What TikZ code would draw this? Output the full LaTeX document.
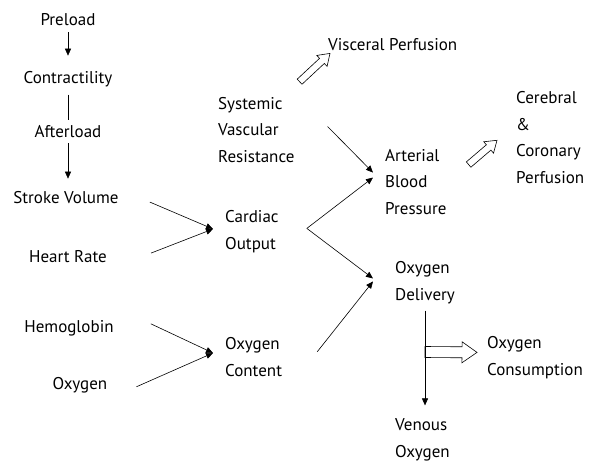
\documentclass[tikz,border=0pt]{standalone}
\usepackage{fontspec}
\setmainfont{PT Sans}
\usetikzlibrary{arrows.meta, positioning, calc}
\tikzstyle{factor} = [inner sep=0pt, font=\fontsize{17}{26.5}\selectfont, anchor=base]
\tikzstyle{block} = [factor, align=left, anchor=base west]
\tikzstyle{arrow} = [line width=0.6pt, -{Triangle[length=7pt,width=6pt]}]
\tikzstyle{link} = [line width=0.6pt]
\tikzstyle{hollow} = [line width=0.6pt, line join=miter]
% hollow block arrow: {start}{tip}{half shaft}{half head}{head length}
\newcommand{\hollowarrow}[5]{%
  \coordinate (hb) at ($(#2)!#5!(#1)$);
  \draw[hollow] ($(#1)!#3!90:(#2)$) -- ($(hb)!#3!90:(#2)$) -- ($(hb)!#4!90:(#2)$) -- (#2)
    -- ($(hb)!#4!-90:(#2)$) -- ($(hb)!#3!-90:(#2)$) -- ($(#1)!#3!-90:(#2)$) -- cycle;
}

\begin{document}
\begin{tikzpicture}[x=1pt, y=-1pt]
    \useasboundingbox (0,0) rectangle (591,463);

    % Left column
    \node (preload) [factor] at (68,25) {Preload};
    \node (contract) [factor] at (68,83) {Contractility};
    \node (afterload) [factor] at (68,137) {Afterload};
    \node (stroke) [factor] at (66,203) {Stroke Volume};
    \node (heart) [factor] at (68,262) {Heart Rate};
    \node (hemo) [factor] at (69,332) {Hemoglobin};
    \node (oxy) [factor] at (80,389) {Oxygen};

    % Middle and right blocks (base = last line)
    \node (cardiac) [block] at (225,249) {Cardiac\\Output};
    \node (content) [block] at (225,376) {Oxygen\\Content};
    \node (svr) [block] at (218,162) {Systemic\\Vascular\\Resistance};
    \node (visceral) [block] at (328,50) {Visceral Perfusion};
    \node (abp) [block] at (385,214) {Arterial\\Blood\\Pressure};
    \node (cerebral) [block] at (516,183) {Cerebral\\\&\\Coronary\\Perfusion};
    \node (delivery) [block] at (395,300) {Oxygen\\Delivery};
    \node (consumption) [block] at (487,375) {Oxygen\\Consumption};
    \node (venous) [block] at (395,457) {Venous\\Oxygen};

    % Junctions
    \coordinate (coin) at (213,229);
    \coordinate (ocin) at (213,353);
    \coordinate (split) at ($(cardiac.east)+(28,-3)$);
    \coordinate (vo2) at (425,352);

    % Heart chain
    \draw[arrow, shorten <=7pt, shorten >=15pt] (preload.south) -- (contract.north);
    \draw[link, shorten <=8pt, shorten >=5pt] (contract.south) -- (afterload.north);
    \draw[arrow, shorten <=6pt, shorten >=12pt] (afterload.south) -- (afterload.south |- stroke.north);

    % Into Cardiac Output and Oxygen Content
    \draw[arrow] ($(stroke.east)+(31,5)$) -- (coin);
    \draw[arrow] ($(heart.east)+(44,-3)$) -- (coin);
    \draw[arrow] ($(hemo.east)+(37,-4)$) -- (ocin);
    \draw[arrow] ($(oxy.east)+(29,2)$) -- (ocin);

    % Cardiac Output splits
    \draw[arrow] (split) -- ($(abp.west)+(-12,-4)$);
    \draw[arrow] (split) -- ($(delivery.west)+(-22,-4)$);
    \draw[arrow] ($(svr.east)+(33,-3)$) -- ($(abp.west)+(-12,-9)$);
    \draw[arrow] ($(content.east)+(35,-5)$) -- ($(delivery.west)+(-22,-1)$);

    % Delivery to venous
    \draw[arrow, shorten <=7pt, shorten >=13pt] (delivery.south) -- (delivery.south |- venous.north);

    % Hollow arrows
    \coordinate (visin) at ($(svr.north east)+(5,-15)$);
    \coordinate (visout) at ($(visceral.south west)+(2,3)$);
    \coordinate (cerin) at ($(abp.east)+(22,-17)$);
    \coordinate (cerout) at ($(cerebral.west)+(-19,3)$);
    \coordinate (conout) at ($(consumption.west)+(-10,-5)$);
    \hollowarrow{visin}{visout}{3.5pt}{7.5pt}{11pt}
    \hollowarrow{cerin}{cerout}{3.5pt}{7.5pt}{11pt}
    \hollowarrow{vo2}{conout}{5.5pt}{10.5pt}{15pt}
\end{tikzpicture}
\end{document}
